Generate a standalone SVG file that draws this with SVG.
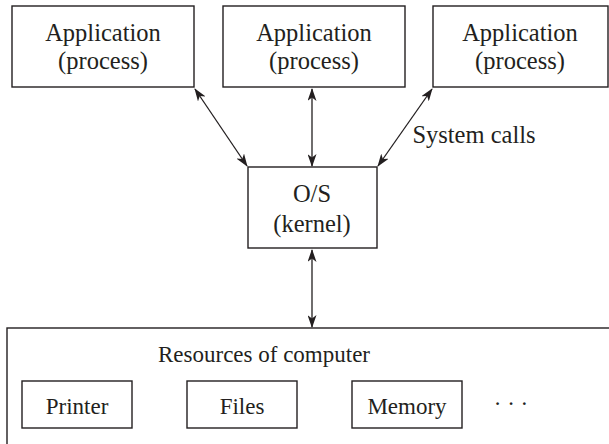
<svg xmlns="http://www.w3.org/2000/svg" width="609" height="444" viewBox="0 0 609 444">
  <style>
    .box { fill: #ffffff; stroke: #231f20; stroke-width: 1.4; }
    .lbl { font-family: "Liberation Serif", serif; font-size: 23px; fill: #231f20; text-anchor: middle; }
    .app { font-size: 24.5px; }
    .conn { stroke: #231f20; stroke-width: 1.3; fill: none; marker-start: url(#head); marker-end: url(#head); }
  </style>
  <defs>
    <marker id="head" viewBox="0 0 13 9" refX="12" refY="4.5" markerWidth="13" markerHeight="9" markerUnits="userSpaceOnUse" orient="auto-start-reverse">
      <path d="M0,0 L13,4.5 L0,9 L3.5,4.5 Z" fill="#231f20"/>
    </marker>
  </defs>
  <rect width="609" height="444" fill="#ffffff"/>

  <g id="app1">
    <rect class="box" x="12" y="6" width="182" height="81"/>
    <text class="lbl app" x="103" y="41">Application</text>
    <text class="lbl app" x="103" y="69">(process)</text>
  </g>
  <g id="app2">
    <rect class="box" x="223" y="6" width="182" height="81"/>
    <text class="lbl app" x="314" y="41">Application</text>
    <text class="lbl app" x="314" y="69">(process)</text>
  </g>
  <g id="app3">
    <rect class="box" x="433" y="6" width="175" height="81"/>
    <text class="lbl app" x="520" y="41">Application</text>
    <text class="lbl app" x="520" y="69">(process)</text>
  </g>

  <g id="kernel">
    <rect class="box" x="248" y="167" width="129" height="81"/>
    <text class="lbl app" x="312" y="202">O/S</text>
    <text class="lbl app" x="312" y="232">(kernel)</text>
  </g>

  <g id="resources">
    <rect class="box" x="7" y="328" width="606" height="120"/>
    <text class="lbl" x="264" y="362">Resources of computer</text>
  </g>
  <g id="printer">
    <rect class="box" x="22" y="381" width="110" height="47"/>
    <text class="lbl" x="77" y="414">Printer</text>
  </g>
  <g id="files">
    <rect class="box" x="187" y="381" width="110" height="47"/>
    <text class="lbl" x="242" y="414">Files</text>
  </g>
  <g id="memory">
    <rect class="box" x="352" y="381" width="110" height="47"/>
    <text class="lbl" x="407" y="414">Memory</text>
  </g>
  <g id="more">
    <text class="lbl" x="511" y="411">· · ·</text>
  </g>

  <g id="connectors">
    <line class="conn" x1="195" y1="89" x2="247" y2="166"/>
    <line class="conn" x1="312" y1="89" x2="312" y2="166"/>
    <line class="conn" x1="432" y1="89" x2="378" y2="166"/>
    <line class="conn" x1="312" y1="250" x2="312" y2="327"/>
    <text class="lbl app" x="474" y="143">System calls</text>
  </g>
</svg>
